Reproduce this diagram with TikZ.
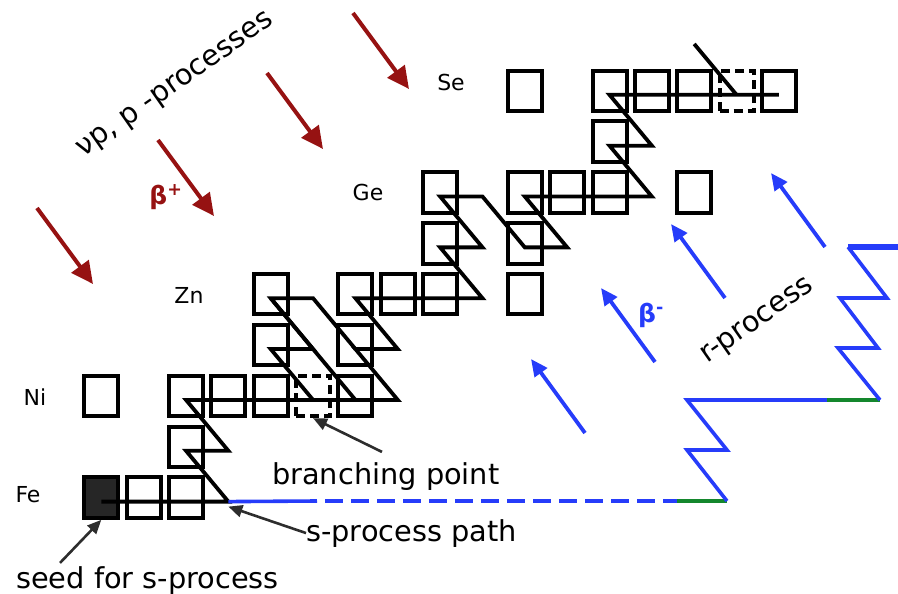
\documentclass[tikz,border=0pt]{standalone}
\usepackage{fontspec}
\setmainfont{DejaVu Sans}
\usetikzlibrary{arrows.meta}
\definecolor{decayred}{RGB}{150,18,18}
\definecolor{rblue}{RGB}{38,60,250}
\definecolor{rgreen}{RGB}{20,135,45}
\definecolor{pointgray}{RGB}{45,45,45}
\definecolor{seedfill}{RGB}{38,38,38}
\begin{document}
\begin{tikzpicture}[x=1pt,y=-1pt,
  stable/.style={draw,line width=4pt,minimum width=34pt,minimum height=40.5pt,inner sep=0pt},
  seedbox/.style={stable,fill=seedfill},
  branchbox/.style={stable,dash pattern=on 9pt off 5pt},
  spath/.style={line width=3.8pt},
  rpath/.style={rblue,line width=3.6pt},
  gpath/.style={rgreen,line width=3.6pt},
  bplus/.style={decayred,line width=4pt,-{Triangle[length=22pt,width=21pt]}},
  bminus/.style={rblue,line width=3.8pt,-{Triangle[length=17pt,width=15pt]}},
  pointer/.style={pointgray,line width=2.6pt,-{Triangle[length=14pt,width=12pt]}},
  elem/.style={inner sep=0pt,font=\fontsize{22}{26}\selectfont},
  note/.style={inner sep=0pt,font=\fontsize{28.8}{32}\selectfont},
  decay/.style={inner sep=0pt,font=\fontsize{25}{28}\selectfont\bfseries}]
\useasboundingbox (0,0) rectangle (898,594);
\begin{scope}[shift={(101.3,497.6)},x=42.35pt,y=50.85pt]
\foreach \nm/\cx/\ry/\st in {fe56/0/0/seedbox, fe57/1/0/stable, fe58/2/0/stable,
    co59/2/1/stable,
    ni58/0/2/stable, ni60/2/2/stable, ni61/3/2/stable, ni62/4/2/stable, ni63/5/2/branchbox, ni64/6/2/stable,
    cu63/4/3/stable, cu65/6/3/stable,
    zn64/4/4/stable, zn66/6/4/stable, zn67/7/4/stable, zn68/8/4/stable, zn70/10/4/stable,
    ga69/8/5/stable, ga71/10/5/stable,
    ge70/8/6/stable, ge72/10/6/stable, ge73/11/6/stable, ge74/12/6/stable, ge76/14/6/stable,
    as75/12/7/stable,
    se74/10/8/stable, se76/12/8/stable, se77/13/8/stable, se78/14/8/stable, se79/15/8/branchbox, se80/16/8/stable}
  \node[\st] (b\nm) at (\cx,\ry) {};
\begin{scope}[yshift=-4pt]
\foreach \nm/\cx/\ry in {fe56/0/0, fe59/3/0, co59/2/1, co60/3/1,
    ni60/2/2, ni63/5/2, ni64/6/2, ni65/7/2,
    cu63/4/3, cu64/5/3, cu65/6/3, cu66/7/3,
    zn64/4/4, zn65/5/4, zn66/6/4, zn69/9/4,
    ga69/8/5, ga70/9/5, ga71/10/5, ga72/11/5,
    ge70/8/6, ge71/9/6, ge72/10/6, ge75/13/6,
    as75/12/7, as76/13/7,
    se76/12/8, se79/15/8, se80/16/8, br79/14/9}
  \coordinate (\nm) at (\cx,\ry);
\end{scope}
\end{scope}
\draw[spath] (fe56) -- (fe59) -- (co59) -- (co60) -- (ni60) -- (ni65) -- (cu65) -- (cu66) -- (zn66) -- (zn69)
  -- (ga69) -- (ga70) -- (ge70) -- (ge71) -- (ga71) -- (ga72) -- (ge72) -- (ge75) -- (as75) -- (as76) -- (se76) -- (se80);
\draw[spath] (ni63) -- (cu63) -- (cu64) -- (zn64) -- (zn65) -- (cu65);
\draw[spath] (zn64) -- (ni64);
\draw[spath] (se79) -- (br79);
\draw[rpath] (fe59) -- (317,501);
\draw[rpath,dash pattern=on 18pt off 8pt,dash phase=18pt] (317,501) -- (677,501);
\draw[gpath] (677,501) -- (727,501);
\draw[rpath] (727,501) -- (687,450) -- (727,450) -- (687,400) -- (827,400);
\draw[gpath] (827,400) -- (880,400);
\draw[rpath] (880,400) -- (838,348) -- (878,348) -- (840,298) -- (887,298) -- (848,247);
\draw[rblue,line width=6.5pt] (848,247) -- (898,247);
\foreach \px/\py in {37/208, 158/140, 267/73, 353/13}
  \draw[bplus] (\px,\py) -- ++(56,76);
\foreach \px/\py in {585/433, 655/362, 725/298, 825/247}
  \draw[bminus] (\px,\py) -- ++(-54,-74);
\node[elem] (lse) at (451,82) {Se};
\node[elem] (lge) at (368,192) {Ge};
\node[elem] (lzn) at (189,295) {Zn};
\node[elem] (lni) at (35,397) {Ni};
\node[elem] (lfe) at (28,495) {Fe};
\node[note,rotate=35] (lnup) at (176,86) {νp, p -processes};
\node[note,rotate=35] (lrproc) at (758,322) {r-process};
\node[decay,text=decayred] (lbplus) at (166,197) {β\textsuperscript{+}};
\node[decay,text=rblue] (lbminus) at (651,315) {β\textsuperscript{-}};
\node[note,anchor=base west] (lbranch) at (272,484) {branching point};
\node[note,anchor=base west] (lspath) at (306,541) {s-process path};
\node[note,anchor=base west] (lseed) at (16,588) {seed for s-process};
\draw[pointer] ([xshift=44pt,yshift=3pt]lseed.north west) -- (bfe56.south);
\draw[pointer] (lspath.west) -- ([yshift=-5pt]fe59);
\draw[pointer] ([xshift=110pt,yshift=10pt]lbranch.north west) -- (bni63.south);
\end{tikzpicture}
\end{document}
